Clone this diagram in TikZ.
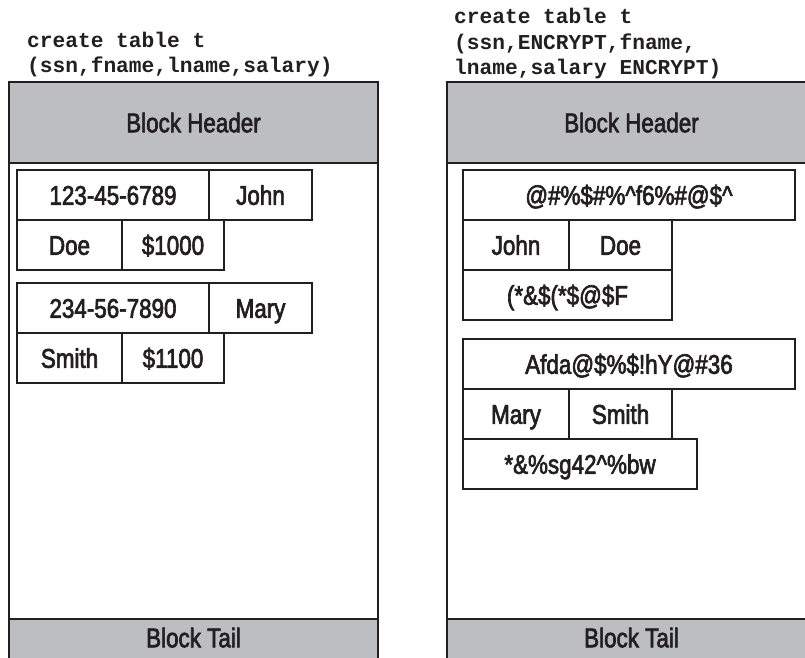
\documentclass[tikz,border=0pt]{standalone}
\usepackage{fontspec}
\usepackage{xcolor}
\usepackage{tikz}
\usetikzlibrary{positioning}
\newfontfamily\cellfont{Liberation Sans}[FakeStretch=0.83, FakeBold=2.4]
\newfontfamily\codefont{Liberation Mono}
\definecolor{blockink}{HTML}{231F20}
\definecolor{blockgray}{HTML}{BCBEC1}

\begin{document}
\begin{tikzpicture}[x=1pt, y=-1pt,
  cell/.style={draw=blockink, line width=1.5pt, outer sep=0pt, inner sep=0pt, minimum height=50pt, text height=19.5pt, text depth=0pt, text=blockink, font=\fontsize{27}{30}\cellfont},
  band/.style={cell, fill=blockgray, line width=1.8pt, minimum width=369pt},
  frame/.style={draw=blockink, line width=1.8pt},
  code/.style={anchor=base west, inner sep=0pt, text=blockink, font=\fontsize{21.2}{25}\codefont\bfseries}
]
\clip (0,0) rectangle (805,657);
\fill[white] (0,0) rectangle (805,657);

% statements
\node[code] (stmtA1) at (27,47) {create table t};
\node[code] (stmtA2) at (27,72) {(ssn,fname,lname,salary)};
\node[code] (stmtB1) at (454,23) {create table t};
\node[code] (stmtB2) at (454,49) {(ssn,ENCRYPT,fname,};
\node[code] (stmtB3) at (454,74) {lname,salary ENCRYPT)};

% plain block
\node[band, minimum height=81pt, anchor=north west] (headA) at (9,82) {Block Header};
\node[band, minimum height=50pt, text depth=13pt, anchor=north west] (tailA) at (9,619) {Block Tail};
\draw[frame] (headA.south west) -- (tailA.north west);
\draw[frame] (headA.south east) -- (tailA.north east);

\node[cell, minimum width=192pt, anchor=north west] (ssnA) at (17,170) {123-45-6789};
\node[cell, minimum width=103pt, right=0pt of ssnA] (fnA) {John};
\node[cell, minimum width=105pt, anchor=north west] (lnA) at (ssnA.south west) {Doe};
\node[cell, minimum width=102pt, right=0pt of lnA] (salA) {\$1000};

\node[cell, minimum width=192pt, anchor=north west] (ssnB) at (17,283) {234-56-7890};
\node[cell, minimum width=103pt, right=0pt of ssnB] (fnB) {Mary};
\node[cell, minimum width=105pt, anchor=north west] (lnB) at (ssnB.south west) {Smith};
\node[cell, minimum width=102pt, right=0pt of lnB] (salB) {\$1100};

% encrypted block
\node[band, minimum height=81pt, anchor=north west] (headE) at (447,82) {Block Header};
\node[band, minimum height=50pt, text depth=13pt, anchor=north west] (tailE) at (447,619) {Block Tail};
\draw[frame] (headE.south west) -- (tailE.north west);
\draw[frame] (headE.south east) -- (tailE.north east);

\node[cell, minimum width=332pt, anchor=north west] (ssnC) at (463,170) {@\#\%\$\#\%\textasciicircum f6\%\#@\$\textasciicircum};
\node[cell, minimum width=106pt, anchor=north west] (fnC) at (ssnC.south west) {John};
\node[cell, minimum width=103pt, right=0pt of fnC] (lnC) {Doe};
\node[cell, minimum width=209pt, anchor=north west] (salC) at (fnC.south west) {(*\&\$(*\$@\$F};

\node[cell, minimum width=332pt, anchor=north west] (ssnD) at (463,339) {Afda@\$\%\$!hY@\#36};
\node[cell, minimum width=106pt, anchor=north west] (fnD) at (ssnD.south west) {Mary};
\node[cell, minimum width=103pt, right=0pt of fnD] (lnD) {Smith};
\node[cell, minimum width=234pt, anchor=north west] (salD) at (fnD.south west) {*\&\%sg42\textasciicircum\%bw};
\end{tikzpicture}
\end{document}
